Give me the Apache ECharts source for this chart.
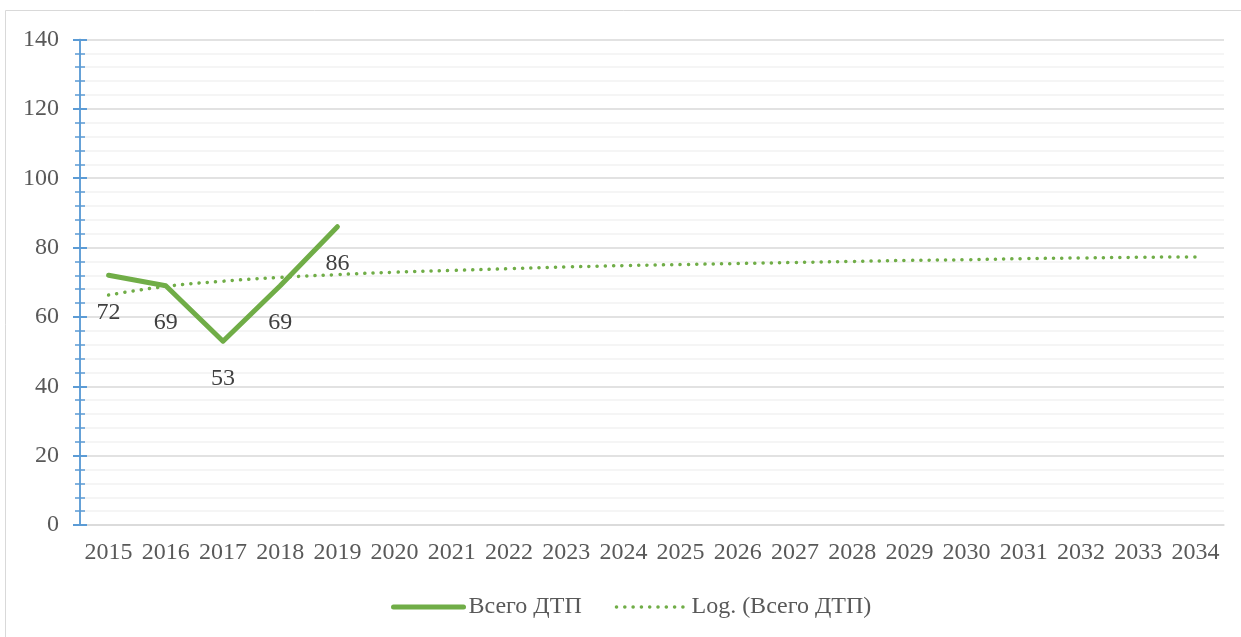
<!DOCTYPE html>
<html>
<head>
<meta charset="utf-8">
<script src="https://cdn.jsdelivr.net/npm/echarts@6/dist/echarts.min.js"></script>
<style>
  html, body { margin: 0; padding: 0; background: #fff; }
  #chart { width: 1241px; height: 637px; }
</style>
</head>
<body>
<div id="chart"></div>
<script>
// Years on the category axis
const years = ['2015','2016','2017','2018','2019','2020','2021','2022','2023','2024',
               '2025','2026','2027','2028','2029','2030','2031','2032','2033','2034'];
// Total road accidents (observed years only)
const totalAccidents = [72, 69, 53, 69, 86];
// Logarithmic trend values for every year
const logTrend = [66.3, 68.8, 70.3, 71.4, 72.2, 72.9, 73.4, 73.9, 74.4, 74.8,
                  75.1, 75.4, 75.7, 76.0, 76.3, 76.5, 76.8, 77.0, 77.2, 77.3];
const seriesNames = ['Всего ДТП', 'Log. (Всего ДТП)'];

const GREEN = '#70AD47';
const AXIS_BLUE = '#5B9BD5';
const TEXT = '#595959';
const FONT = '"Liberation Serif", "Times New Roman", serif';
const FS = 24;

const chart = echarts.init(document.getElementById('chart'), null, { renderer: 'canvas' });

const yBase = {
  type: 'value', min: 0, max: 140, interval: 20, position: 'left'
};

chart.setOption({
  animation: false,
  backgroundColor: '#fff',
  textStyle: { fontFamily: FONT },
  graphic: [{
    type: 'rect',
    shape: { x: 5.5, y: 10.5, width: 1300, height: 700 },
    style: { fill: 'none', stroke: '#D9D9D9', lineWidth: 1 },
    silent: true, z: -10
  }],
  grid: { left: 80, right: 17, top: 39.5, bottom: 112, containLabel: false },
  legend: {
    left: 386, top: 590,
    itemWidth: 70, itemHeight: 14, itemGap: 33,
    itemStyle: { opacity: 0 },
    textStyle: { fontFamily: FONT, fontSize: FS, color: TEXT },
    data: [
      { name: seriesNames[0], lineStyle: { width: 5, cap: 'round' } },
      { name: seriesNames[1], lineStyle: { width: 3.5, cap: 'round', type: [0.1, 8.2] } }
    ]
  },
  xAxis: {
    type: 'category',
    data: years,
    boundaryGap: true,
    axisLine: { show: true, lineStyle: { color: '#D9D9D9', width: 1.5 } },
    axisTick: { show: false },
    axisLabel: { fontFamily: FONT, fontSize: FS, color: TEXT, margin: 16, interval: 0 },
    splitLine: { show: false }
  },
  yAxis: [
    Object.assign({}, yBase, {
      axisLine: { show: true, lineStyle: { color: AXIS_BLUE, width: 1.5 } },
      axisTick: { show: true, inside: false, length: 7, lineStyle: { color: AXIS_BLUE, width: 2 } },
      minorTick: { show: true, splitNumber: 5, length: 5, lineStyle: { color: AXIS_BLUE, width: 1.5 } },
      axisLabel: { fontFamily: FONT, fontSize: FS, color: TEXT, margin: 21 },
      splitLine: { show: true, lineStyle: { color: '#D9D9D9', width: 1.5 } },
      minorSplitLine: { show: true, lineStyle: { color: '#F2F2F2', width: 1.5 } }
    }),
    // mirror axis so that ticks cross the axis line
    Object.assign({}, yBase, {
      offset: 0,
      axisLine: { show: true, lineStyle: { color: AXIS_BLUE, width: 1.5 } },
      axisTick: { show: true, inside: true, length: 7, lineStyle: { color: AXIS_BLUE, width: 2 } },
      minorTick: { show: true, splitNumber: 5, length: 5, lineStyle: { color: AXIS_BLUE, width: 1.5 } },
      axisLabel: { show: false },
      splitLine: { show: false },
      minorSplitLine: { show: false }
    })
  ],
  series: [
    {
      name: seriesNames[0],
      type: 'line',
      yAxisIndex: 0,
      data: totalAccidents,
      symbol: 'circle',
      symbolSize: 0.1,
      showSymbol: true,
      z: 3,
      itemStyle: { color: GREEN },
      lineStyle: { color: GREEN, width: 5, cap: 'round', join: 'round' },
      label: {
        show: true, position: 'bottom', distance: 25,
        fontFamily: FONT, fontSize: FS, color: '#404040'
      }
    },
    {
      name: seriesNames[1],
      type: 'line',
      yAxisIndex: 0,
      data: logTrend,
      symbol: 'none',
      smooth: true,
      z: 2,
      itemStyle: { color: GREEN },
      lineStyle: { color: GREEN, width: 3.5, type: [0.1, 8.2], cap: 'round' }
    }
  ]
});
</script>
</body>
</html>
